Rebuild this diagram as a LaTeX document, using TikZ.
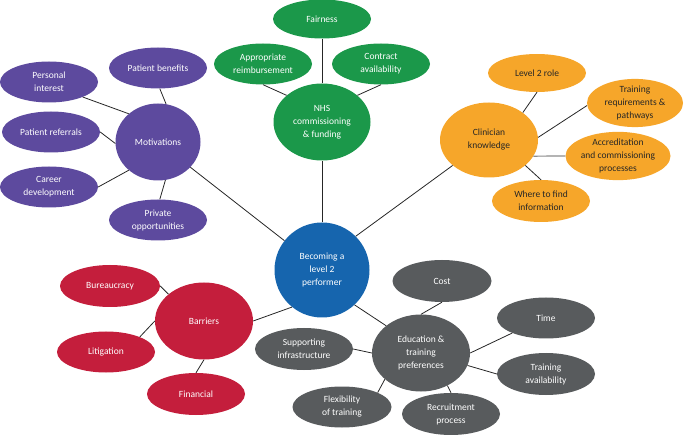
\documentclass[tikz,border=0pt]{standalone}
\usepackage{fontspec}
\setmainfont{Carlito}
\usetikzlibrary{shapes.geometric}
\definecolor{cpurple}{RGB}{93,74,158}
\definecolor{cgreen}{RGB}{27,152,74}
\definecolor{corange}{RGB}{246,166,42}
\definecolor{cblue}{RGB}{22,101,174}
\definecolor{cred}{RGB}{196,30,60}
\definecolor{cgrey}{RGB}{88,91,93}
\tikzset{
  bub/.style={ellipse, inner sep=0pt, align=center, text=white,
    font=\fontsize{9.5}{13}\selectfont, minimum width=98pt, minimum height=41pt},
  hub/.style={bub, minimum width=97pt, minimum height=77pt},
  pur/.style={fill=cpurple}, grn/.style={fill=cgreen},
  org/.style={fill=corange, text=black!85}, red/.style={fill=cred},
  gry/.style={fill=cgrey},
  link/.style={draw=black!85, line width=0.8pt},
  glink/.style={draw=black!45, line width=1.2pt}
}
\begin{document}
\begin{tikzpicture}[x=1pt,y=-1pt]
\useasboundingbox (0,0) rectangle (685,435);
% centre
\node[bub, fill=cblue, minimum width=95pt, minimum height=95pt] (cen) at (322,270) {Becoming a\\level 2\\performer};
% purple
\node[hub, pur, minimum width=85pt] (mot) at (158,142) {Motivations};
\node[bub, pur] (pb) at (158,68) {Patient benefits};
\node[bub, pur] (pi) at (49,82) {Personal\\interest};
\node[bub, pur] (pr) at (51,132) {Patient referrals};
\node[bub, pur] (cd) at (49,187) {Career\\development};
\node[bub, pur] (po) at (158,220) {Private\\opportunities};
% green
\node[hub, grn] (nhs) at (322,122) {NHS\\commissioning\\\&~funding};
\node[bub, grn, minimum height=39pt] (fair) at (322,19) {Fairness};
\node[bub, grn] (appr) at (263,64) {Appropriate\\reimbursement};
\node[bub, grn] (contr) at (381,64) {Contract\\availability};
% orange
\node[hub, org, minimum width=98pt, minimum height=75pt] (clin) at (489,140) {Clinician\\knowledge};
\node[bub, org, minimum height=38pt] (l2) at (537,73) {Level 2 role};
\node[bub, org, minimum width=96pt] (tr) at (635,103) {Training\\requirements \&\\pathways};
\node[bub, org, minimum width=100pt, minimum height=42pt] (acc) at (618,156) {Accreditation\\and commissioning\\processes};
\node[bub, org, minimum height=42pt] (wf) at (541,201) {Where to find\\information};
% red
\node[hub, red, minimum width=98pt] (bar) at (204,321) {Barriers};
\node[bub, red, minimum width=100pt, minimum height=42pt] (bur) at (110,286) {Bureaucracy};
\node[bub, red] (lit) at (106,352) {Litigation};
\node[bub, red, minimum height=42pt] (fin) at (196,394) {Financial};
% grey
\node[hub, gry, minimum width=98pt] (edu) at (421,353) {Education \&\\training\\preferences};
\node[bub, gry, minimum width=99pt, minimum height=42pt] (cost) at (442,281) {Cost};
\node[bub, gry] (time) at (546,318) {Time};
\node[bub, gry, minimum height=42pt] (ta) at (546,374) {Training\\availability};
\node[bub, gry, minimum height=42pt] (rec) at (451,414) {Recruitment\\process};
\node[bub, gry, minimum width=99pt] (flex) at (342,407) {Flexibility\\of training};
\node[bub, gry, minimum height=42pt] (sup) at (304,349) {Supporting\\infrastructure};
% links: centre to hubs
\draw[link] (cen) -- (mot);
\draw[link] (cen.north) -- (nhs.south);
\draw[link] (cen.45) -- (clin.215);
\draw[link] (cen.231) -- (bar.east);
\draw[link] (cen.-47) -- (edu.142);
% purple links
\draw[link] (pb.-85) -- (mot.78);
\draw[link] (pi.-24) -- (mot.136);
\draw[link] (pr.east) -- (mot.182);
\draw[link] (cd.east) -- (mot.224);
\draw[link] (po.85) -- (mot.-79);
% green links
\draw[link] (fair.south) -- (nhs.north);
\draw[link] (appr.south) -- (nhs.143);
\draw[link] (contr.south) -- (nhs.37);
% orange links
\draw[link] (l2.south) -- (clin.39);
\draw[link] (tr.183) -- (clin.3);
\draw[glink] (acc.west) -- (clin.-20);
\draw[link] (wf.north) -- (clin.-35);
% red links
\draw[link] (bur.east) -- (bar.143);
\draw[link] (lit.24) -- (bar.west);
\draw[link] (fin.north) -- (bar.south);
% grey links
\draw[link] (edu.north) -- (cost.south);
\draw[link] (edu.east) -- (time.204);
\draw[link] (edu.-15) -- (ta.west);
\draw[link] (edu.-51) -- (rec.north);
\draw[link] (edu.216) -- (flex.22);
\draw[link] (edu.west) -- (sup.east);
\end{tikzpicture}
\end{document}
